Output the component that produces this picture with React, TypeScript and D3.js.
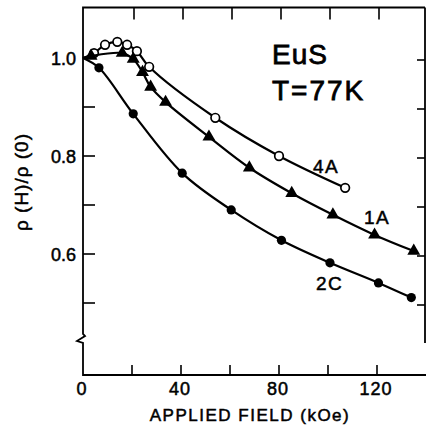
import React, { useEffect, useRef } from 'react'
import * as d3 from 'd3'

// applied field (kOe) and rho(H)/rho(0)
const field4A = [0, 4.5, 9, 14, 18, 22, 27, 54, 80, 107]
const rho4A = [1.0, 1.01, 1.027, 1.033, 1.027, 1.014, 0.982, 0.878, 0.8, 0.735]

const field1A = [0, 3.3, 16, 20.5, 24.3, 27.6, 33.7, 51.4, 67.9, 85.2, 102, 119, 135]
const rho1A = [1.0, 1.004, 1.01, 0.998, 0.971, 0.941, 0.91, 0.839, 0.776, 0.724, 0.68, 0.639, 0.606]

const field2C = [0, 6.5, 20.5, 40.5, 60.5, 81, 100.8, 120.6, 134]
const rho2C = [1.0, 0.98, 0.886, 0.765, 0.69, 0.628, 0.582, 0.541, 0.511]

const xTickLabels = [0, 40, 80, 120]
const xTicks = [20, 40, 60, 80, 100, 120]
const yTickLabels = [1.0, 0.8, 0.6]
const yTicks = [1.0, 0.9, 0.8, 0.7, 0.6, 0.5]

const App = () => {
  const svgRef = useRef(null)

  useEffect(() => {
    const svg = d3.select(svgRef.current)
    svg.selectAll('*').remove()

    const x = d3.scaleLinear().domain([0, 120]).range([83, 377])
    const y = d3.scaleLinear().domain([0.5, 1.0]).range([303, 58])

    const top = 7.5
    const bottom = 375
    const left = 83
    const right = 425
    const brk = 339

    const font = "'Liberation Sans', Arial, sans-serif"

    // frame
    const frame = svg.append('g').attr('fill', 'none').attr('stroke', '#000').attr('stroke-width', 1.8)
    frame
      .append('path')
      .attr(
        'd',
        `M${right},${top}L${left},${top}L${left},${brk - 5}L${left + 2},${brk - 3}L${left - 6},${brk + 2}L${left},${brk + 4}L${left},${bottom}L426,${bottom}`
      )
    frame.append('path').attr('d', `M${right},${top}L${right},${brk + 4}`)

    // ticks (all pointing inward)
    const ticks = svg.append('g').attr('stroke', '#000').attr('stroke-width', 1.6)
    ticks
      .selectAll('.bt')
      .data(xTicks)
      .join('line')
      .attr('x1', (d) => x(d))
      .attr('x2', (d) => x(d))
      .attr('y1', bottom)
      .attr('y2', bottom - 10)
    ticks
      .selectAll('.tt')
      .data(xTicks)
      .join('line')
      .attr('class', 'tt')
      .attr('x1', (d) => x(d) + 2)
      .attr('x2', (d) => x(d) + 2)
      .attr('y1', top)
      .attr('y2', top + 12)
    ticks
      .selectAll('.lt')
      .data(yTicks)
      .join('line')
      .attr('class', 'lt')
      .attr('x1', left)
      .attr('x2', left + 12)
      .attr('y1', (d) => y(d))
      .attr('y2', (d) => y(d))
    ticks
      .selectAll('.rt')
      .data(yTicks)
      .join('line')
      .attr('class', 'rt')
      .attr('x1', right)
      .attr('x2', right - 8)
      .attr('y1', (d) => y(d) + 2)
      .attr('y2', (d) => y(d) + 2)

    const txt = svg.append('g').attr('fill', '#000').attr('stroke', '#000').attr('stroke-width', 0.5)

    // tick labels
    txt
      .append('g')
      .selectAll('text')
      .data(yTickLabels)
      .join('text')
      .attr('x', 76)
      .attr('y', (d) => y(d) + 6.5)
      .attr('text-anchor', 'end')
      .style('font-family', font)
      .style('font-size', '18px')
      .text((d) => d.toFixed(1))

    txt
      .append('g')
      .selectAll('text')
      .data(xTickLabels)
      .join('text')
      .attr('x', (d) => x(d) - 1)
      .attr('y', 395)
      .attr('text-anchor', 'middle')
      .style('font-family', font)
      .style('font-size', '18px')
      .style('letter-spacing', '1px')
      .text((d) => d)

    // axis titles
    txt
      .append('text')
      .attr('x', 250)
      .attr('y', 421)
      .attr('text-anchor', 'middle')
      .style('font-family', font)
      .style('font-size', '17px')
      .style('letter-spacing', '1.5px')
      .text('APPLIED FIELD (kOe)')

    txt
      .append('text')
      .attr('transform', 'translate(28,182) rotate(-90)')
      .attr('text-anchor', 'middle')
      .style('font-family', font)
      .style('font-size', '19px')
      .style('letter-spacing', '1px')
      .text('ρ (H)/ρ (0)')

    // annotation
    txt
      .append('text')
      .attr('x', 272)
      .attr('y', 64)
      .attr('stroke-width', 0.8)
      .style('font-family', font)
      .style('font-size', '28px')
      .style('letter-spacing', '1px')
      .text('EuS')
    txt
      .append('text')
      .attr('x', 272)
      .attr('y', 100)
      .attr('stroke-width', 0.8)
      .style('font-family', font)
      .style('font-size', '28px')
      .style('letter-spacing', '2px')
      .text('T=77K')

    const labels = [
      { t: '4A', x: 313, y: 173 },
      { t: '1A', x: 364, y: 224 },
      { t: '2C', x: 316, y: 290 },
    ]
    txt
      .append('g')
      .selectAll('text')
      .data(labels)
      .join('text')
      .attr('x', (d) => d.x)
      .attr('y', (d) => d.y)
      .style('font-family', font)
      .style('font-size', '19px')
      .style('letter-spacing', '1.5px')
      .text((d) => d.t)

    // curves
    const line = d3
      .line()
      .x((d) => x(d[0]))
      .y((d) => y(d[1]))
      .curve(d3.curveCatmullRom.alpha(0.5))

    const series = [
      { f: field4A, r: rho4A, mark: 'open' },
      { f: field1A, r: rho1A, mark: 'tri' },
      { f: field2C, r: rho2C, mark: 'dot' },
    ]

    series.forEach((s) => {
      const pts = s.f.map((v, i) => [v, s.r[i]])
      svg
        .append('path')
        .datum(pts)
        .attr('d', line)
        .attr('fill', 'none')
        .attr('stroke', '#000')
        .attr('stroke-width', 2.2)

      const marks = pts.slice(1)
      if (s.mark === 'open') {
        svg
          .append('g')
          .selectAll('circle')
          .data(marks)
          .join('circle')
          .attr('cx', (d) => x(d[0]))
          .attr('cy', (d) => y(d[1]))
          .attr('r', 4.3)
          .attr('fill', '#fff')
          .attr('stroke', '#000')
          .attr('stroke-width', 1.7)
      } else if (s.mark === 'dot') {
        svg
          .append('g')
          .selectAll('circle')
          .data(marks)
          .join('circle')
          .attr('cx', (d) => x(d[0]))
          .attr('cy', (d) => y(d[1]))
          .attr('r', 4.6)
          .attr('fill', '#000')
      } else {
        const tri = d3.symbol().type(d3.symbolTriangle).size(72)
        svg
          .append('g')
          .selectAll('path')
          .data(marks)
          .join('path')
          .attr('transform', (d) => `translate(${x(d[0])},${y(d[1])})`)
          .attr('d', tri)
          .attr('fill', '#000')
      }
    })
  }, [])

  return (
    <svg
      ref={svgRef}
      width={426}
      height={425}
      style={{ position: 'absolute', left: 0, top: 0, background: '#fff' }}
    />
  )
}

export default App
